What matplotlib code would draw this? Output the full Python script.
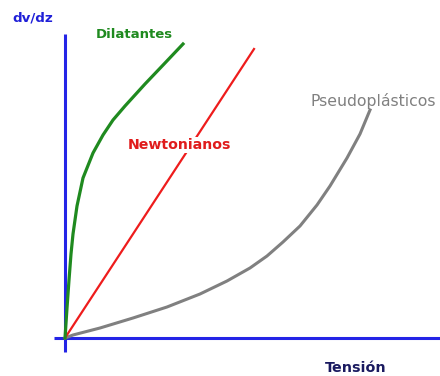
import matplotlib
matplotlib.use('Agg')
import matplotlib.pyplot as plt

plt.rcParams['font.family'] = ['DejaVu Sans']

# Curvas de flujo: tension (x) vs gradiente de velocidad dv/dz (y)
dil_x = [0, 2, 4, 6, 8, 12, 18, 28, 38, 48, 60, 80, 100, 118]
dil_y = [0, 30, 58, 84, 104, 132, 160, 185, 203, 218, 232, 254, 275, 294]

newt_x = [0, 189]
newt_y = [0, 289]

pseudo_x = [0, 8, 35, 68, 102, 135, 162, 185, 202, 218, 235, 252, 265, 282, 295, 305]
pseudo_y = [0, 3, 10, 20, 31, 44, 57, 70, 82, 96, 112, 133, 152, 180, 204, 228]

fig = plt.figure(figsize=(4.4, 3.76), dpi=100)
ax = fig.add_axes([0, 0, 1, 1])
ax.set_xlim(-65, 375)
ax.set_ylim(-38, 338)
ax.axis('off')

# Ejes
eje = '#2424e6'
ax.plot([-11, 375], [0, 0], color=eje, lw=2.2, solid_capstyle='butt')
ax.plot([0, 0], [-14, 304], color=eje, lw=2.2, solid_capstyle='butt')

ax.plot(pseudo_x, pseudo_y, color='#808080', lw=2.2, solid_joinstyle='round')
ax.plot(newt_x, newt_y, color='#ee1c1c', lw=1.6)
ax.plot(dil_x, dil_y, color='#1f8a1f', lw=2.3, solid_joinstyle='round')

ax.text(-53, 320, 'dv/dz', color='#2020d8', fontsize=9.7, fontweight='bold', va='center')
ax.text(31, 304, 'Dilatantes', color='#1f8a1f', fontsize=9.5, fontweight='bold', va='center')
ax.text(63, 193, 'Newtonianos', color='#e01c1c', fontsize=10.2, fontweight='bold', va='center',
        bbox=dict(facecolor='white', edgecolor='none', pad=1))
ax.text(245, 237, 'Pseudoplásticos', color='#808080', fontsize=11.3, va='center')
ax.text(260, -30, 'Tensión', color='#1a1a60', fontsize=10.3, fontweight='bold', va='center')

fig.savefig('out.png', dpi=100)
